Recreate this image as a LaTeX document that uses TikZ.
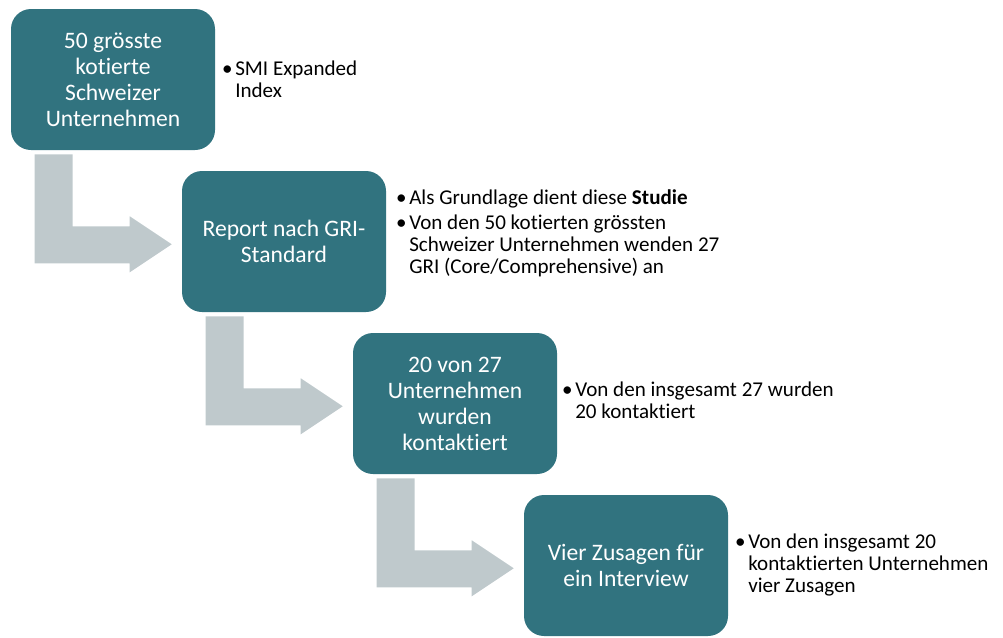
\documentclass[tikz,border=0pt]{standalone}
\usepackage{fontspec}
\setmainfont{Carlito}[Ligatures=NoCommon,RawFeature={-liga;-clig;-dlig}]
\usetikzlibrary{calc}
\definecolor{boxteal}{HTML}{31737F}
\definecolor{arrowgray}{HTML}{BFC9CC}
\newcommand\mybul{\makebox[0pt][r]{•\hspace{2pt}}}
\begin{document}
\begin{tikzpicture}[x=0.75pt,y=-0.75pt,
  stepbox/.style={fill=boxteal, rounded corners=15pt, minimum width=153pt, minimum height=105.75pt, inner sep=0pt, text=white, align=center, font=\fontsize{17.7}{19.5}\selectfont},
  bullettext/.style={anchor=base west, inner sep=0pt, font=\fontsize{15.8}{16.5}\selectfont},
  bentarrow/.style={fill=arrowgray}]
\useasboundingbox (0,0) rectangle (1003,637);
% arrow outline, relative to the south west corner of the box it leaves
\newcommand\bentarrowpath{(24,4) -- (62,4) -- (62,76) -- (119,76) -- (119,66) -- (161,94) -- (119,122) -- (119,113) -- (24,113) -- cycle}
% boxes
\node[stepbox] (b1) at (113,79.5) {50 grösste\\kotierte\\Schweizer\\Unternehmen};
\node[stepbox] (b2) at (284,241.5) {Report nach GRI-\\Standard};
\node[stepbox] (b3) at (455,403.5) {20 von 27\\Unternehmen\\wurden\\kontaktiert};
\node[stepbox] (b4) at (626,565.5) {Vier Zusagen für\\ein Interview};
\fill[bentarrow, shift={(b1.south west)}] \bentarrowpath;
\fill[bentarrow, shift={(b2.south west)}] \bentarrowpath;
\fill[bentarrow, shift={(b3.south west)}] \bentarrowpath;
% bullet texts
\node[bullettext] (t1) at (235,75) {\mybul\parbox[t]{150pt}{SMI Expanded\\Index}};
\node[bullettext] (t2a) at (409,204) {\mybul Als Grundlage dient diese \textbf{Studie}};
\node[bullettext] (t2b) at (409,229) {\mybul\parbox[t]{260pt}{Von den 50 kotierten grössten\\Schweizer Unternehmen wenden 27\\GRI (Core/Comprehensive) an}};
\node[bullettext] (t3) at (575,396) {\mybul\parbox[t]{240pt}{Von den insgesamt 27 wurden\\20 kontaktiert}};
\node[bullettext] (t4) at (748,548) {\mybul\parbox[t]{200pt}{Von den insgesamt 20\\kontaktierten Unternehmen\\vier Zusagen}};
\end{tikzpicture}
\end{document}
